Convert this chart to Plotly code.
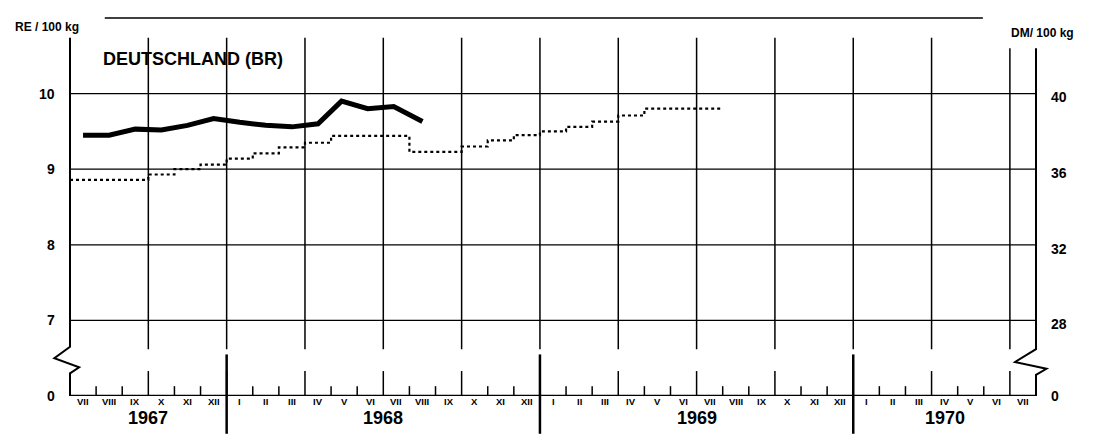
import plotly.graph_objects as go

# month index 0 = start of VII 1967, one unit per month
price_x = [0.5, 1.5, 2.5, 3.5, 4.5, 5.5, 6.5, 7.5, 8.5, 9.5, 10.4, 11.4, 12.4, 13.5]
price_re = [9.45, 9.45, 9.53, 9.52, 9.58, 9.67, 9.62, 9.58, 9.56, 9.60, 9.90, 9.80, 9.83, 9.63]

step_x = [0, 3, 4, 5, 6, 7, 8, 9, 10, 13, 15, 16, 17, 18, 19, 20, 21, 22, 25]
step_re = [8.86, 8.93, 9.00, 9.06, 9.14, 9.21, 9.29, 9.35, 9.44, 9.23, 9.30, 9.38, 9.45, 9.50,
           9.56, 9.63, 9.71, 9.80, 9.80]

months = ["VII", "VIII", "IX", "X", "XI", "XII"] + \
    ["I", "II", "III", "IV", "V", "VI", "VII", "VIII", "IX", "X", "XI", "XII"] * 2 + \
    ["I", "II", "III", "IV", "V", "VI", "VII"]
years = ["1967", "1968", "1969", "1970"]
year_pos = [3, 12, 24, 33.5]
year_breaks = [6, 18, 30]
left_ticks = [7, 8, 9, 10]
right_labels = ["28", "32", "36", "40"]

N = len(months)  # 37
BASE = 6.0       # where the 0 line sits after the axis break
INK = "black"
FONT = "Liberation Sans"

def px(m):
    return m / N  # month index -> paper x

fig = go.Figure()
fig.add_trace(go.Scatter(x=step_x, y=step_re, mode="lines", line_shape="hv",
                         line=dict(color=INK, width=2.2, dash="dot"), hoverinfo="skip"))
fig.add_trace(go.Scatter(x=price_x, y=price_re, mode="lines",
                         line=dict(color=INK, width=5), hoverinfo="skip"))

shapes = []
def line(x0, y0, x1, y1, w=1.2, yref="y"):
    shapes.append(dict(type="line", x0=px(x0), y0=y0, x1=px(x1), y1=y1, xref="paper", yref=yref,
                       line=dict(color=INK, width=w)))

for v in left_ticks:
    line(0, v, N, v, 1.3)
for q in range(3, N, 3):
    line(q, 6.62, q, 10.6 if q == 36 else 10.74, 1.5)
# baseline and month ticks
line(0, BASE, N, BASE, 2.5)
for m in range(1, N):
    line(m, BASE, m, BASE + (0.33 if m % 3 == 0 else 0.13), 1.5)
for b in year_breaks:
    line(b, -0.1, b, 0.11, 2.5, yref="paper")
# left axis with break
shapes.append(dict(type="path", xref="paper", yref="y", line=dict(color=INK, width=2),
                   path=f"M 0 10.74 L 0 6.65 L {px(-0.6)} 6.5 L {px(0.35)} 6.38 L 0 6.3 L 0 6"))
# right axis with break
shapes.append(dict(type="path", xref="paper", yref="y", line=dict(color=INK, width=2),
                   path=f"M 1 10.6 L 1 6.62 L {px(N-0.8)} 6.45 L {px(N+0.4)} 6.36 L 1 6.28 L 1 6"))
# top frame line between unit labels
shapes.append(dict(type="line", xref="paper", yref="paper", x0=0.036, x1=0.945, y0=1, y1=1,
                   line=dict(color=INK, width=1.3)))

ann = []
def text(x, y, s, size=11, xanchor="center", yref="y"):
    ann.append(dict(x=x, y=y, text=f"<b>{s}</b>", showarrow=False, xref="paper", yref=yref,
                    xanchor=xanchor, font=dict(family=FONT, size=size, color=INK)))

for v in left_ticks:
    text(px(-0.5), v, str(v), 14, "right")
text(px(-0.5), BASE, "0", 14, "right")
for v, s in zip(left_ticks, right_labels):
    text(px(N + 0.5), v - 0.05, s, 14, "left")
text(px(N + 0.5), BASE, "0", 14, "left")
for i, m in enumerate(months):
    text(px(i + 0.5), -0.035, m, 9.5, yref="paper")
for y, p in zip(years, year_pos):
    text(px(p), -0.09, y, 18, yref="paper")
text(px(1.2), 10.46, "DEUTSCHLAND (BR)", 18, "left")
text(-0.059, 1.0, "RE / 100 kg", 12, "left", yref="paper")
text(0.972, 0.985, "DM/ 100 kg", 12, "left", yref="paper")

fig.update_layout(
    width=1108, height=448, showlegend=False,
    paper_bgcolor="white", plot_bgcolor="white",
    margin=dict(l=62, r=80, t=10, b=60),
    xaxis=dict(range=[0, N], visible=False),
    yaxis=dict(range=[BASE, 11.0], visible=False),
    shapes=shapes, annotations=ann,
)
fig.write_html("out.html")
